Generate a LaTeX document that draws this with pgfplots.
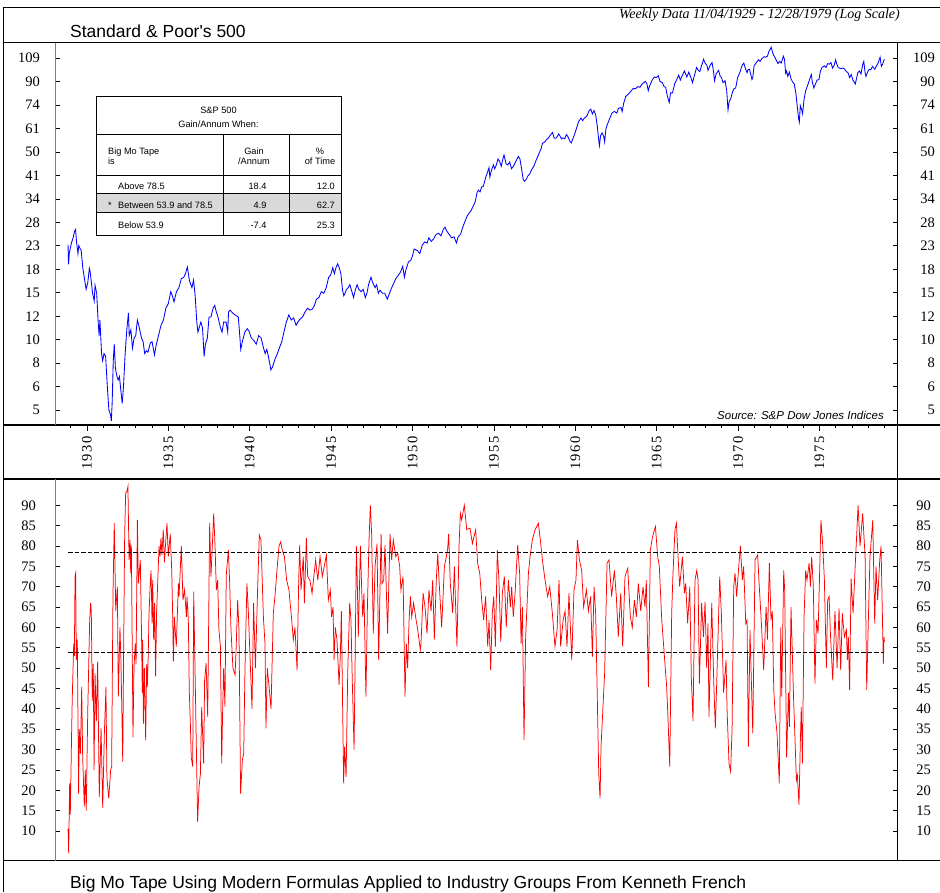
\documentclass[border=0pt]{standalone}
\usepackage{pgfplots}
\pgfplotsset{compat=1.18}
\usepackage{pgfplotstable}
\usepackage{fontspec}
\setmainfont{Liberation Serif}
\newfontfamily\arial{Liberation Sans}

% S&P 500, weekly (approximate readings), log scale
\pgfplotstableread{
year val
1929.84 21.3
1929.87 17.9
1929.92 19.8
1929.97 20.5
1930.05 21.6
1930.15 22.6
1930.25 24.0
1930.30 24.3
1930.37 21.6
1930.45 19.7
1930.50 21.1
1930.58 20.6
1930.65 20.2
1930.75 17.3
1930.85 15.8
1930.95 14.4
1931.05 15.2
1931.15 17.3
1931.20 16.8
1931.35 13.9
1931.45 13.0
1931.50 14.9
1931.60 13.9
1931.70 10.6
1931.75 9.6
1931.80 11.0
1931.90 8.2
1931.97 7.7
1932.05 8.2
1932.15 8.0
1932.25 6.2
1932.35 5.0
1932.45 4.8
1932.50 4.55
1932.55 5.3
1932.62 7.7
1932.68 8.9
1932.75 7.2
1932.85 6.7
1932.92 6.5
1933.00 6.7
1933.10 5.8
1933.17 5.3
1933.25 6.2
1933.35 8.2
1933.45 10.1
1933.55 11.7
1933.60 9.6
1933.70 10.1
1933.80 8.6
1933.90 9.4
1934.00 9.6
1934.10 11.0
1934.20 10.4
1934.35 9.4
1934.45 9.1
1934.55 8.2
1934.65 8.4
1934.75 8.3
1934.90 9.0
1935.00 9.1
1935.15 8.1
1935.25 8.8
1935.40 9.6
1935.55 10.5
1935.70 11.0
1935.85 12.2
1936.00 12.7
1936.15 14.1
1936.25 13.6
1936.35 12.9
1936.50 14.1
1936.65 14.6
1936.80 15.8
1936.95 16.0
1937.05 16.5
1937.17 17.5
1937.30 15.5
1937.45 14.6
1937.55 15.6
1937.65 13.6
1937.75 10.8
1937.82 9.9
1937.90 10.3
1938.00 10.8
1938.10 10.3
1938.20 8.0
1938.28 8.9
1938.40 9.4
1938.50 11.3
1938.62 11.3
1938.75 12.2
1938.85 12.5
1938.95 11.8
1939.05 11.3
1939.20 10.3
1939.30 9.9
1939.40 10.8
1939.55 10.8
1939.65 9.9
1939.70 11.8
1939.80 12.0
1939.95 11.7
1940.10 11.5
1940.30 11.3
1940.40 9.4
1940.45 8.5
1940.55 9.1
1940.70 9.9
1940.85 10.2
1940.95 10.0
1941.10 9.4
1941.25 9.2
1941.40 8.9
1941.55 9.6
1941.70 9.4
1941.85 8.6
1941.95 8.2
1942.05 8.5
1942.15 8.0
1942.30 7.1
1942.40 7.3
1942.55 7.8
1942.70 8.2
1942.85 8.7
1942.97 9.1
1943.10 9.9
1943.25 10.8
1943.40 11.5
1943.55 11.0
1943.70 11.2
1943.85 10.5
1943.95 10.8
1944.10 11.1
1944.25 11.3
1944.40 11.8
1944.55 12.2
1944.70 12.0
1944.85 12.1
1944.97 12.5
1945.10 13.2
1945.25 13.4
1945.40 14.1
1945.55 13.9
1945.70 14.6
1945.85 16.0
1945.97 16.3
1946.10 17.4
1946.20 16.5
1946.30 17.4
1946.40 18.0
1946.50 17.4
1946.60 16.5
1946.70 14.3
1946.78 13.6
1946.85 13.9
1946.95 14.4
1947.05 14.6
1947.15 15.0
1947.25 14.3
1947.38 13.4
1947.50 14.4
1947.60 15.0
1947.70 14.4
1947.85 14.1
1947.97 14.4
1948.10 13.4
1948.20 13.9
1948.30 15.0
1948.45 16.0
1948.55 15.3
1948.70 14.6
1948.80 15.0
1948.90 13.9
1949.00 14.3
1949.15 13.9
1949.30 13.9
1949.45 13.2
1949.55 13.7
1949.70 14.5
1949.85 15.2
1949.97 15.8
1950.10 16.2
1950.25 16.7
1950.40 17.6
1950.50 16.0
1950.60 17.1
1950.75 18.3
1950.90 18.6
1951.00 19.3
1951.10 20.5
1951.30 20.2
1951.45 19.7
1951.60 21.2
1951.75 21.8
1951.90 21.6
1952.00 22.6
1952.15 21.9
1952.30 22.4
1952.45 23.3
1952.60 23.5
1952.75 23.0
1952.90 24.4
1953.00 24.8
1953.10 24.0
1953.25 23.3
1953.40 22.6
1953.55 22.8
1953.70 21.6
1953.80 22.8
1953.95 23.3
1954.05 24.4
1954.20 25.9
1954.35 27.3
1954.50 28.2
1954.60 28.7
1954.70 29.6
1954.85 31.0
1954.97 33.7
1955.05 34.3
1955.15 33.8
1955.25 35.3
1955.35 35.5
1955.50 38.5
1955.60 40.0
1955.70 41.8
1955.75 38.5
1955.85 40.9
1955.97 42.8
1956.05 41.4
1956.15 42.8
1956.25 45.1
1956.35 44.2
1956.45 42.3
1956.55 45.1
1956.62 46.7
1956.75 43.2
1956.85 42.8
1956.97 43.9
1957.08 41.4
1957.20 42.3
1957.35 44.2
1957.50 46.1
1957.60 45.1
1957.70 41.4
1957.80 37.6
1957.88 37.1
1957.97 37.6
1958.10 39.0
1958.20 39.5
1958.30 40.9
1958.45 42.3
1958.60 44.7
1958.75 47.0
1958.90 49.4
1958.98 51.7
1959.10 52.2
1959.20 53.1
1959.35 54.3
1959.50 55.9
1959.60 56.9
1959.70 54.1
1959.80 54.1
1959.90 55.0
1959.98 56.2
1960.05 55.3
1960.15 53.8
1960.25 54.3
1960.35 53.8
1960.45 55.8
1960.55 54.8
1960.65 52.9
1960.75 51.9
1960.85 53.8
1960.97 56.3
1961.10 59.7
1961.20 62.6
1961.35 64.5
1961.45 63.1
1961.55 64.5
1961.70 65.5
1961.85 68.9
1961.95 69.8
1962.05 66.9
1962.15 68.9
1962.25 66.4
1962.35 60.1
1962.45 52.4
1962.48 50.7
1962.55 55.3
1962.65 56.7
1962.75 54.8
1962.80 52.4
1962.88 58.7
1962.97 61.1
1963.10 64.0
1963.25 67.4
1963.40 68.4
1963.55 67.4
1963.65 70.3
1963.80 70.8
1963.88 68.4
1963.97 73.5
1964.10 78.0
1964.25 79.5
1964.40 81.5
1964.55 83.5
1964.70 83.5
1964.85 85.0
1964.97 84.5
1965.10 87.0
1965.30 89.0
1965.40 87.0
1965.48 82.0
1965.55 85.0
1965.70 89.5
1965.85 92.5
1965.97 92.0
1966.10 93.5
1966.20 89.0
1966.35 88.0
1966.45 85.0
1966.55 84.5
1966.65 78.5
1966.77 74.0
1966.85 80.5
1966.97 80.5
1967.10 87.0
1967.25 91.0
1967.35 94.0
1967.45 90.0
1967.60 94.5
1967.70 97.5
1967.85 92.5
1967.97 96.5
1968.10 92.0
1968.20 88.0
1968.30 93.0
1968.45 100.5
1968.55 98.0
1968.65 97.0
1968.75 102.0
1968.88 108.0
1968.97 104.5
1969.08 102.5
1969.15 98.0
1969.30 103.0
1969.40 105.0
1969.50 96.0
1969.55 89.5
1969.65 95.0
1969.80 98.0
1969.90 93.0
1969.98 92.0
1970.08 88.0
1970.20 89.5
1970.30 82.0
1970.38 69.3
1970.45 74.5
1970.55 76.5
1970.65 81.0
1970.75 83.5
1970.85 84.0
1970.97 92.0
1971.10 96.0
1971.25 102.5
1971.35 104.5
1971.45 99.5
1971.55 96.0
1971.60 98.5
1971.70 99.0
1971.85 90.5
1971.90 92.0
1971.98 102.0
1972.10 104.5
1972.25 107.5
1972.35 106.0
1972.45 108.5
1972.60 110.5
1972.70 110.0
1972.80 111.0
1972.90 116.0
1972.98 118.0
1973.03 120.0
1973.15 113.0
1973.25 110.0
1973.35 107.0
1973.45 104.0
1973.55 106.0
1973.65 104.5
1973.78 111.0
1973.85 108.0
1973.92 95.5
1973.98 97.5
1974.05 93.0
1974.15 96.5
1974.25 91.0
1974.35 88.5
1974.45 87.0
1974.55 80.0
1974.65 70.0
1974.72 64.0
1974.76 62.3
1974.82 72.0
1974.90 69.5
1974.96 67.0
1975.05 76.0
1975.15 82.0
1975.30 87.0
1975.40 91.0
1975.50 94.5
1975.55 89.0
1975.65 84.0
1975.75 87.0
1975.85 90.0
1975.97 90.5
1976.05 97.0
1976.15 100.5
1976.30 102.0
1976.40 100.5
1976.50 104.0
1976.60 103.5
1976.70 105.0
1976.80 100.0
1976.90 102.5
1976.99 107.5
1977.05 104.0
1977.15 100.5
1977.30 99.5
1977.45 100.0
1977.55 99.0
1977.65 97.0
1977.75 96.0
1977.85 92.0
1977.95 94.5
1978.05 90.0
1978.15 88.0
1978.20 87.0
1978.35 96.0
1978.45 97.5
1978.55 95.0
1978.65 103.0
1978.72 106.0
1978.80 96.0
1978.85 93.0
1978.95 96.5
1979.05 99.0
1979.15 98.5
1979.25 101.5
1979.40 99.0
1979.50 102.0
1979.60 104.5
1979.72 110.0
1979.80 101.5
1979.88 103.5
1979.95 107.0
1979.99 107.9
}\spx

% Big Mo Tape
\pgfplotstableread{
year val
1929.84 10.6
1929.88 4.5
1929.94 21.7
1929.98 14
1930.06 34
1930.10 42.6
1930.19 56
1930.23 53
1930.27 72.5
1930.31 73.3
1930.35 52
1930.41 57
1930.49 19.2
1930.53 35
1930.60 29
1930.68 45.4
1930.74 28
1930.84 16
1930.90 25
1930.96 15
1931.05 39
1931.17 61.8
1931.23 66
1931.27 64
1931.33 42
1931.39 51
1931.44 25
1931.50 48.7
1931.58 37
1931.66 51.6
1931.76 18.4
1931.87 35.2
1931.97 15.6
1932.07 33.6
1932.17 45.4
1932.23 23
1932.34 18
1932.46 25
1932.52 25.8
1932.60 67.6
1932.68 85.6
1932.73 74
1932.77 64
1932.87 70
1932.93 43
1933.03 60
1933.09 52
1933.20 27
1933.26 56
1933.32 83
1933.38 93
1933.46 93.4
1933.52 94.6
1933.59 76.6
1933.65 81.5
1933.69 73.3
1933.73 80
1933.77 61.8
1933.83 33
1933.89 50
1933.97 56
1934.02 51
1934.10 86.4
1934.16 70.8
1934.28 76.6
1934.36 57
1934.40 44
1934.42 57
1934.47 36.4
1934.53 50
1934.61 32.3
1934.67 51
1934.71 45.4
1934.77 53.6
1934.81 62.6
1934.88 70
1934.94 74
1935.00 61
1935.04 71.6
1935.10 57
1935.16 66
1935.22 48
1935.28 63.5
1935.37 73.3
1935.43 80
1935.49 77.4
1935.55 82
1935.61 77.8
1935.69 84
1935.76 76
1935.84 81
1935.92 85.6
1936.00 77.4
1936.12 83
1936.21 74
1936.27 62.6
1936.31 51.6
1936.37 62.6
1936.49 55.3
1936.62 70.8
1936.66 67.6
1936.80 80
1936.90 66.7
1937.00 69.2
1937.11 62.6
1937.15 67.6
1937.23 61.8
1937.29 44
1937.35 37
1937.41 28
1937.50 25.8
1937.56 68.8
1937.64 50
1937.80 12.3
1937.89 20.9
1937.97 24
1938.05 40.5
1938.17 26.6
1938.23 47
1938.32 51.2
1938.42 38
1938.54 85.6
1938.62 72.5
1938.79 88
1938.87 80
1938.95 69.2
1939.03 71.6
1939.11 59.4
1939.20 55.3
1939.28 26.6
1939.34 40
1939.40 50
1939.48 40.5
1939.56 72.9
1939.69 79
1939.77 70.8
1939.85 59.4
1939.97 50
1940.10 48.3
1940.16 54
1940.26 66.7
1940.34 59.4
1940.44 19.2
1940.55 27.4
1940.63 29
1940.71 50
1940.83 70.8
1940.92 63.5
1941.02 52.8
1941.14 40
1941.24 66
1941.35 50
1941.49 70
1941.59 82.7
1941.69 81.5
1941.84 62.6
1941.94 56
1942.00 35.2
1942.08 50
1942.19 45.4
1942.31 40
1942.45 63.5
1942.55 67.6
1942.66 73.3
1942.80 80
1942.90 81
1943.00 79
1943.13 77.4
1943.27 71.6
1943.41 69.2
1943.58 61.8
1943.68 57
1943.78 60
1943.91 49.5
1944.01 71.6
1944.07 80.3
1944.15 69.2
1944.29 77.4
1944.36 66
1944.48 82
1944.56 72.5
1944.70 71.6
1944.83 68.4
1945.05 76.6
1945.18 71.6
1945.32 77.4
1945.46 72.5
1945.71 77.8
1945.83 66.7
1945.95 69.2
1946.03 62.6
1946.12 65
1946.18 52
1946.26 60
1946.36 57
1946.49 45.9
1946.57 53.6
1946.63 64
1946.77 21.7
1946.83 30.7
1946.92 23.3
1947.02 48.7
1947.14 66
1947.22 61.8
1947.30 47
1947.41 30
1947.47 50
1947.55 80
1947.61 70.8
1947.67 57.7
1947.80 80
1947.88 69.2
1947.94 62.6
1948.02 68.4
1948.14 43
1948.23 65
1948.33 81.5
1948.41 90
1948.49 83
1948.59 58.5
1948.70 75
1948.82 80.6
1948.92 52
1949.07 83
1949.13 70.8
1949.23 71.6
1949.31 80.3
1949.47 58.5
1949.62 83
1949.72 76.6
1949.82 81.5
1949.97 77.4
1950.09 78.2
1950.21 75
1950.29 69.2
1950.42 72.5
1950.54 43
1950.62 56
1950.70 50
1950.79 61.8
1950.87 67.6
1950.95 62.6
1951.07 66
1951.19 62.6
1951.32 59.4
1951.48 54.5
1951.52 56
1951.65 68.4
1951.77 65
1951.89 58.5
1952.01 69.2
1952.14 64
1952.24 71.6
1952.34 57
1952.46 71.6
1952.55 78.2
1952.63 71.6
1952.79 60
1952.96 75
1953.08 77.4
1953.16 79.4
1953.22 83
1953.32 70.8
1953.47 63.5
1953.57 75
1953.73 55.3
1953.86 80.3
1953.94 88
1954.02 86.4
1954.18 90
1954.33 84
1954.53 84.4
1954.68 80.6
1954.88 84
1955.00 75.8
1955.13 73.3
1955.25 66.7
1955.37 61.8
1955.49 67.6
1955.62 55.3
1955.70 61.8
1955.80 49.5
1955.90 63.5
1955.99 67.6
1956.09 55.3
1956.21 79
1956.31 71.6
1956.42 56.5
1956.52 68.4
1956.64 72.5
1956.76 60
1956.89 71.6
1957.01 65
1957.09 70
1957.19 62.6
1957.30 68.4
1957.46 80.3
1957.58 73.3
1957.67 56
1957.75 65
1957.85 32.3
1957.95 57.7
1958.12 73.3
1958.22 77.4
1958.36 81.5
1958.53 84
1958.73 85.6
1958.85 81.5
1958.98 76.6
1959.14 71.6
1959.30 67.6
1959.43 70
1959.59 63.5
1959.75 55.3
1959.88 59.4
1960.00 71.6
1960.10 55.3
1960.25 61.8
1960.37 64
1960.49 55.3
1960.61 68.4
1960.78 52
1960.92 69.2
1961.04 71.6
1961.13 81.5
1961.25 76.6
1961.39 74
1961.51 65
1961.68 69.2
1961.80 64
1961.94 67.6
1962.05 52.8
1962.15 70
1962.25 63.5
1962.33 47
1962.44 24
1962.52 18
1962.58 30.7
1962.70 40.5
1962.80 48.7
1962.95 75.8
1963.07 76.6
1963.23 67.6
1963.40 74
1963.52 67.6
1963.64 57.7
1963.79 68.4
1963.91 55.3
1964.05 72.5
1964.22 74.5
1964.38 62.6
1964.50 60
1964.63 66.7
1964.75 62.6
1964.87 70.8
1965.02 64
1965.16 70
1965.28 65
1965.36 71.6
1965.49 45.4
1965.61 79
1965.73 82
1965.92 84.8
1966.06 77.4
1966.16 75
1966.31 61.8
1966.43 55.3
1966.61 45.4
1966.69 38
1966.80 25.8
1966.92 63.5
1967.00 73.3
1967.12 84
1967.21 85.6
1967.29 79
1967.41 70
1967.58 77.4
1967.70 68.4
1967.78 70.8
1967.90 61
1968.03 70
1968.13 47
1968.23 37
1968.35 71.6
1968.46 74
1968.54 71.6
1968.62 46.2
1968.76 66
1968.87 57.7
1968.97 66.3
1969.07 50
1969.15 61
1969.21 38
1969.38 66
1969.50 47
1969.60 35.2
1969.69 47
1969.87 72.5
1969.97 63.5
1970.11 44
1970.26 52
1970.32 40
1970.44 26.6
1970.54 24.6
1970.63 35.2
1970.73 70
1970.81 73.3
1970.91 67.6
1971.02 74
1971.14 80
1971.26 71.6
1971.34 75
1971.47 61
1971.55 61.8
1971.63 30.7
1971.73 59.4
1971.90 34
1972.04 76.6
1972.20 77.8
1972.29 70.8
1972.43 61
1972.57 49.5
1972.72 65
1972.80 57
1972.92 75.8
1973.02 61.8
1973.10 64
1973.19 44.6
1973.27 39
1973.39 34
1973.53 21.7
1973.62 60
1973.68 43
1973.80 74
1973.86 69.2
1973.98 28
1974.09 44
1974.15 35.6
1974.25 65
1974.33 53.6
1974.41 42.2
1974.58 22.5
1974.64 23.7
1974.74 16.4
1974.82 31.5
1974.88 40.5
1974.95 26.6
1975.05 62.6
1975.15 74
1975.23 71.6
1975.36 75.8
1975.44 70
1975.52 77.4
1975.62 70
1975.72 46.2
1975.81 61.8
1975.91 58.5
1975.97 67.6
1976.09 86.4
1976.20 80
1976.30 71.6
1976.42 50
1976.50 66.7
1976.59 67.6
1976.67 58.5
1976.81 47
1976.95 64
1977.08 50
1977.20 64.7
1977.30 49.5
1977.40 63.5
1977.53 57.7
1977.65 59.4
1977.71 52
1977.77 57.7
1977.85 44.6
1977.94 72
1978.06 63.5
1978.18 74
1978.37 90
1978.49 80
1978.65 88
1978.80 77.4
1978.90 44.6
1979.00 61.8
1979.10 77.4
1979.27 86.4
1979.39 61
1979.47 75
1979.57 66.7
1979.70 76.6
1979.78 80
1979.92 51
1979.96 57.7
1979.99 56.5
}\bigmo

\pgfplotsset{
  panel/.style={
    scale only axis, width=841.6pt,
    xmin=1929.083, xmax=1980.778,
    axis line style={draw=none},
    tick align=inside, major tick length=4.5pt,
    tick style={black, line width=0.7pt},
    tick label style={font=\fontsize{14.5}{14.5}\selectfont},
    xtick=\empty,
  },
}

\begin{document}
\begin{tikzpicture}
\useasboundingbox (0pt,0pt) rectangle (940pt,892pt);

% upper panel
\begin{axis}[panel, ymode=log, ymin=4.385, ymax=124.9,
  ytick={5,6.1405,7.5411,9.2612,11.3736,13.9679,17.1539,21.0666,25.8718,31.7731,39.0205,47.9211,58.8518,72.2759,88.7620,109},
  yticklabels={5,6,8,10,12,15,18,23,28,34,41,50,61,74,90,109},
  at={(55.7pt,467pt)}, anchor=south west, height=382.3pt,
  ytick pos=both, yticklabel pos=left,
  yticklabel style={anchor=east, inner sep=0pt, xshift=-15.7pt}]
  \addplot[blue, line width=0.85pt] table {\spx};
\end{axis}
\begin{axis}[panel, ymode=log, ymin=4.385, ymax=124.9,
  ytick={5,6.1405,7.5411,9.2612,11.3736,13.9679,17.1539,21.0666,25.8718,31.7731,39.0205,47.9211,58.8518,72.2759,88.7620,109},
  yticklabels={5,6,8,10,12,15,18,23,28,34,41,50,61,74,90,109},
  at={(55.7pt,467pt)}, anchor=south west, height=382.3pt,
  ytick pos=right, yticklabel pos=right, major tick length=0pt,
  yticklabel style={anchor=east, inner sep=0pt, xshift=37.7pt}]
  \addplot[draw=none] coordinates {(1950,20)};
\end{axis}

% date band
\begin{axis}[scale only axis, width=841.6pt, height=53.7pt,
  at={(55.7pt,413.3pt)}, anchor=south west,
  xmin=1929.083, xmax=1980.778, ymin=0, ymax=1, ytick=\empty,
  axis line style={draw=none},
  xtick={1931,1936,1941,1946,1951,1956,1961,1966,1971,1976},
  xticklabels={1930,1935,1940,1945,1950,1955,1960,1965,1970,1975},
  minor xtick={1930,1931,...,1980},
  xtick pos=right, xticklabel pos=left, tick align=inside,
  major tick length=6pt, minor tick length=3.5pt,
  tick style={black, line width=0.7pt},
  xticklabel style={font=\addfontfeature{LetterSpace=10}\fontsize{14.5}{14.5}\selectfont, rotate=90, anchor=west, inner sep=0pt, xshift=8.7pt}]
  \addplot[draw=none] coordinates {(1950,0.5)};
\end{axis}

% lower panel
\begin{axis}[panel, ymin=2.75, ymax=96.53, ytick={10,15,...,90},
  /pgf/number format/assume math mode=true,
  at={(55.7pt,31.5pt)}, anchor=south west, height=381.8pt,
  ytick pos=both, yticklabel pos=left,
  yticklabel style={anchor=east, inner sep=0pt, xshift=-19.7pt}]
  \addplot[red, line width=0.75pt] table {\bigmo};
  \addplot[black, line width=0.8pt, dash pattern=on 4.5pt off 2pt] coordinates {(1929.84,78.5) (1979.99,78.5)};
  \addplot[black, line width=0.8pt, dash pattern=on 4.5pt off 2pt] coordinates {(1929.84,53.9) (1979.99,53.9)};
\end{axis}
\begin{axis}[panel, ymin=2.75, ymax=96.53, ytick={10,15,...,90},
  /pgf/number format/assume math mode=true,
  at={(55.7pt,31.5pt)}, anchor=south west, height=381.8pt,
  ytick pos=right, yticklabel pos=right, major tick length=0pt,
  yticklabel style={anchor=east, inner sep=0pt, xshift=33.7pt}]
  \addplot[draw=none] coordinates {(1950,50)};
\end{axis}

\begin{scope}[x=1pt, y=1pt]
% frame lines
\draw[line width=1.1pt] (3,884.7) -- (940,884.7);
\draw[line width=1.2pt] (3,849.3) -- (940,849.3);
\draw[line width=1.2pt] (3,467) -- (940,467);
\draw[line width=2.2pt] (3,413.3) -- (940,413.3);
\draw[line width=1.2pt] (3,31.5) -- (940,31.5);
\draw[line width=1.2pt] (3.3,885.2) -- (3.3,0);
\draw[gray, line width=0.9pt] (55.7,849.3) -- (55.7,467);
\draw[gray, line width=0.9pt] (55.7,413.3) -- (55.7,31.5);
\draw[line width=1pt] (897.3,849.3) -- (897.3,31.5);

% titles
\node[anchor=base west, inner sep=0pt, font=\arial\fontsize{17.5}{17.5}\selectfont] at (70,854.7) {Standard \& Poor's 500};
\node[anchor=base east, inner sep=0pt, font=\itshape\fontsize{14}{14}\selectfont] at (900,873.7) {Weekly Data 11/04/1929 - 12/28/1979 (Log Scale)};
\node[anchor=base east, inner sep=0pt, font=\arial\itshape\fontsize{11.5}{11.5}\selectfont] at (884,472) {Source: S\&P Dow Jones Indices};
\node[anchor=base west, inner sep=0pt, font=\arial\fontsize{17.5}{17.5}\selectfont] at (70,4) {Big Mo Tape Using Modern Formulas Applied to Industry Groups From Kenneth French};

% table
\fill[white] (96,796) rectangle (341,656.3);
\fill[black!15] (96,698.3) rectangle (341,679.7);
\draw[line width=0.6pt] (96,758) -- (341,758);
\draw[line width=0.6pt] (96,717) -- (341,717);
\draw[line width=0.6pt] (96,698.3) -- (341,698.3);
\draw[line width=0.6pt] (96,679.7) -- (341,679.7);
\draw[line width=0.6pt] (223,758) -- (223,656.3);
\draw[line width=0.6pt] (289,758) -- (289,656.3);
\draw[line width=0.9pt] (96,796) rectangle (341,656.3);
\begin{scope}[every node/.style={inner sep=0pt, font=\arial\fontsize{9.2}{9.2}\selectfont}]
\node at (218.5,781.3) {S\&P 500};
\node at (218.5,768) {Gain/Annum When:};
\node[anchor=west] at (108,740.3) {Big Mo Tape};
\node[anchor=west] at (108,730.3) {is};
\node at (254,740.3) {Gain};
\node at (254,730.3) {/Annum};
\node at (320,740.3) {\%};
\node at (320,730.3) {of Time};
\node[anchor=west] at (118,705.3) {Above 78.5};
\node[anchor=east] at (266.7,705.3) {18.4};
\node[anchor=east] at (335,705.3) {12.0};
\node[anchor=west] at (108,687) {*};
\node[anchor=west] at (118,687) {Between 53.9 and 78.5};
\node[anchor=east] at (266.7,687) {4.9};
\node[anchor=east] at (335,687) {62.7};
\node[anchor=west] at (118,667) {Below 53.9};
\node[anchor=east] at (266.7,667) {-7.4};
\node[anchor=east] at (335,667) {25.3};
\end{scope}
\end{scope}
\end{tikzpicture}
\end{document}
